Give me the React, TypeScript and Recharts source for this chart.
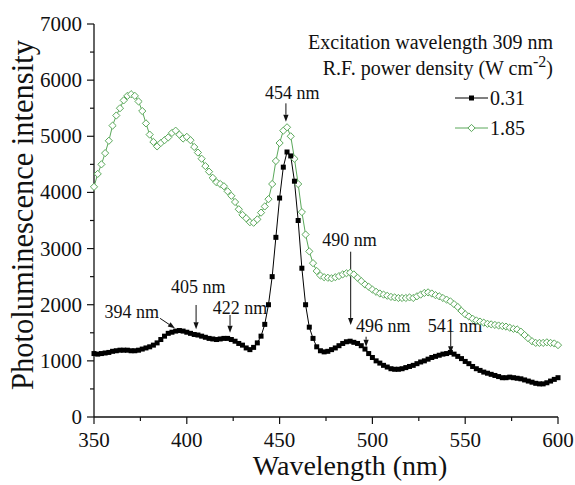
import React from 'react';
import { LineChart, Line, XAxis, YAxis, ReferenceLine, ReferenceDot, Legend } from 'recharts';

// wavelength grid (nm)
const wavelengths = [
  350, 352, 354, 356, 358, 360, 362, 364, 366, 368,
  370, 372, 374, 376, 378, 380, 382, 384, 386, 388,
  390, 392, 394, 396, 398, 400, 402, 404, 406, 408,
  410, 412, 414, 416, 418, 420, 422, 424, 426, 428,
  430, 432, 434, 436, 438, 440, 442, 444, 446, 448,
  450, 452, 454, 456, 458, 460, 462, 464, 466, 468,
  470, 472, 474, 476, 478, 480, 482, 484, 486, 488,
  490, 492, 494, 496, 498, 500, 502, 504, 506, 508,
  510, 512, 514, 516, 518, 520, 522, 524, 526, 528,
  530, 532, 534, 536, 538, 540, 542, 544, 546, 548,
  550, 552, 554, 556, 558, 560, 562, 564, 566, 568,
  570, 572, 574, 576, 578, 580, 582, 584, 586, 588,
  590, 592, 594, 596, 598, 600,
];

// 0.31 W cm-2
const lowPower = [
  1130, 1120, 1130, 1140, 1150, 1170, 1180, 1190, 1190, 1190,
  1180, 1180, 1190, 1210, 1230, 1250, 1280, 1320, 1380, 1440,
  1490, 1510, 1530, 1540, 1530, 1510, 1490, 1470, 1460, 1440,
  1420, 1400, 1390, 1380, 1390, 1400, 1400, 1380, 1350, 1310,
  1280, 1230, 1200, 1240, 1320, 1440, 1650, 2000, 2500, 3200,
  3900, 4450, 4720, 4650, 4200, 3500, 2650, 2000, 1600, 1400,
  1250, 1180, 1160, 1170, 1200, 1230, 1270, 1310, 1340, 1350,
  1330, 1310, 1270, 1210, 1130, 1060, 1000, 960, 920, 890,
  860, 850, 850, 860, 880, 900, 920, 950, 980, 1000,
  1030, 1060, 1080, 1100, 1120, 1130, 1150, 1120, 1080, 1040,
  990, 950, 900, 860, 830, 800, 780, 760, 740, 720,
  700, 700, 710, 700, 690, 680, 660, 640, 620, 600,
  590, 590, 610, 640, 670, 700,
];

// 1.85 W cm-2
const highPower = [
  4100, 4330, 4500, 4700, 4920, 5190, 5370, 5500, 5640, 5720,
  5750, 5720, 5620, 5450, 5230, 5030, 4900, 4820, 4880, 4930,
  4980, 5060, 5100, 5030, 4960, 4990, 4930, 4810, 4710, 4600,
  4470, 4370, 4260, 4180, 4150, 4110, 4020, 3940, 3830, 3700,
  3600, 3540, 3470, 3460, 3520, 3640, 3750, 3880, 4150, 4560,
  4880, 5100, 5160, 5000, 4600, 4150, 3650, 3250, 2950, 2740,
  2600, 2520, 2490, 2480, 2470, 2490, 2510, 2540, 2560, 2570,
  2540, 2480, 2420, 2360, 2320, 2270, 2230, 2200, 2180, 2160,
  2140, 2130, 2120, 2120, 2120, 2130, 2120, 2150, 2180, 2210,
  2220, 2200, 2170, 2150, 2120, 2090, 2060, 2010, 1960, 1890,
  1830, 1790, 1750, 1720, 1700, 1680, 1660, 1650, 1640, 1630,
  1620, 1610, 1590, 1570, 1560, 1520, 1460, 1400, 1350, 1320,
  1320, 1320, 1330, 1320, 1310, 1280,
];

const xTicks = [350, 375, 400, 425, 450, 475, 500, 525, 550, 575, 600];
const yTicks = [0, 500, 1000, 1500, 2000, 2500, 3000, 3500, 4000, 4500, 5000, 5500, 6000, 6500, 7000];

// peak labels: text spot and arrow from (x1,y1) to tip (x2,y2), in data units
const peakNotes = [
  { text: '394 nm', tx: 370.3, ty: 1875, x1: 385.6, y1: 1757, x2: 393.6, y2: 1580 },
  { text: '405 nm', tx: 406.2, ty: 2321, x1: 405, y1: 1995, x2: 405, y2: 1562 },
  { text: '422 nm', tx: 428.7, ty: 1936, x1: 423.3, y1: 1817, x2: 423.3, y2: 1501 },
  { text: '454 nm', tx: 456.8, ty: 5765, x1: 453.4, y1: 5587, x2: 453.4, y2: 5259 },
  { text: '490 nm', tx: 487.6, ty: 3152, x1: 488.3, y1: 2944, x2: 488.3, y2: 1639 },
  { text: '496 nm', tx: 505.9, ty: 1621, x1: 496.6, y1: 1430, x2: 496.6, y2: 1252 },
  { text: '541 nm', tx: 544.5, ty: 1621, x1: 542.2, y1: 1519, x2: 542.2, y2: 1134 },
];

const rows = wavelengths.map((w, i) => ({ w, low: lowPower[i], high: highPower[i] }));

const SERIF = "'Liberation Serif', 'DejaVu Serif', Tinos, 'Times New Roman', Times, serif";
const INK = '#111';
const GREEN = '#5aa85a';

const XTick = (p: any) => {
  const v = p.payload.value;
  const major = v % 50 === 0;
  return (
    <g>
      <line x1={p.x} y1={p.y} x2={p.x} y2={p.y + (major ? 7 : 4)} stroke={INK} strokeWidth={1.2} />
      {major && (
        <text x={p.x} y={p.y + 30} textAnchor="middle" fontSize={21} fontFamily={SERIF} fill={INK}>
          {v}
        </text>
      )}
    </g>
  );
};

const YTick = (p: any) => {
  const v = p.payload.value;
  const major = v % 1000 === 0;
  return (
    <g>
      <line x1={p.x} y1={p.y} x2={p.x - (major ? 7 : 4)} y2={p.y} stroke={INK} strokeWidth={1.2} />
      {major && (
        <text x={p.x - 12} y={p.y + 7} textAnchor="end" fontSize={21} fontFamily={SERIF} fill={INK}>
          {v}
        </text>
      )}
    </g>
  );
};

const Arrow = (p: any) => {
  const { x1, y1, x2, y2 } = p;
  const a = Math.atan2(y2 - y1, x2 - x1);
  const len = 7;
  const hw = 2.6;
  const bx = x2 - len * Math.cos(a);
  const by = y2 - len * Math.sin(a);
  const nx = -Math.sin(a) * hw;
  const ny = Math.cos(a) * hw;
  return (
    <g>
      <line x1={x1} y1={y1} x2={bx} y2={by} stroke={INK} strokeWidth={1} />
      <path d={`M${x2},${y2}L${bx + nx},${by + ny}L${bx - nx},${by - ny}Z`} fill={INK} />
    </g>
  );
};

const Square = (p: any) => (
  <rect key={`sq-${p.index}`} x={p.cx - 2.5} y={p.cy - 2.5} width={5} height={5} fill="#000" />
);

const Diamond = (p: any) => (
  <path
    key={`dm-${p.index}`}
    d={`M${p.cx},${p.cy - 3.6}L${p.cx + 3.6},${p.cy}L${p.cx},${p.cy + 3.6}L${p.cx - 3.6},${p.cy}Z`}
    fill="#fff"
    stroke={GREEN}
    strokeWidth={1}
  />
);

const LegendBlock = () => (
  <div style={{ position: 'relative', width: 575, height: 485, fontFamily: SERIF, color: INK, pointerEvents: 'none' }}>
    <div style={{ position: 'absolute', right: 22, top: 30, fontSize: 20, lineHeight: '24px', whiteSpace: 'nowrap' }}>
      Excitation wavelength 309 nm
    </div>
    <div style={{ position: 'absolute', right: 22, top: 56, fontSize: 20, lineHeight: '24px', whiteSpace: 'nowrap' }}>
      R.F. power density (W cm<span style={{ fontSize: 16, position: 'relative', top: -8 }}>-2</span>)
    </div>
    {[
      { label: '0.31', top: 86, kind: 'sq' },
      { label: '1.85', top: 116, kind: 'dm' },
    ].map((r) => (
      <div key={r.label} style={{ position: 'absolute', left: 455, top: r.top, height: 24, display: 'flex', alignItems: 'center' }}>
        <svg width={33} height={24}>
          <line x1={0} y1={12} x2={33} y2={12} stroke={r.kind === 'sq' ? '#000' : GREEN} strokeWidth={1} />
          {r.kind === 'sq' ? (
            <rect x={14} y={9.5} width={5} height={5} fill="#000" />
          ) : (
            <path d="M16.5,8.4L20.1,12L16.5,15.6L12.9,12Z" fill="#fff" stroke={GREEN} />
          )}
        </svg>
        <span style={{ fontSize: 20, lineHeight: '24px', marginLeft: 2 }}>{r.label}</span>
      </div>
    ))}
  </div>
);

export default function App() {
  return (
    <div style={{ position: 'absolute', left: 0, top: 0, background: '#fff' }}>
      <LineChart width={575} height={485} data={rows} margin={{ top: 24, right: 17, left: 0, bottom: 0 }}>
        <XAxis
          dataKey="w"
          type="number"
          domain={[350, 600]}
          ticks={xTicks}
          interval={0}
          height={68}
          tickSize={0}
          tickMargin={0}
          tickLine={false}
          tick={XTick}
          axisLine={{ stroke: INK, strokeWidth: 1.3 }}
          label={{
            content: () => (
              <text x={350} y={475} textAnchor="middle" fontSize={28} fontFamily={SERIF} fill={INK}>
                Wavelength (nm)
              </text>
            ),
          }}
        />
        <XAxis
          xAxisId="top"
          orientation="top"
          dataKey="w"
          type="number"
          domain={[350, 600]}
          height={0}
          tick={false}
          tickLine={false}
          axisLine={{ stroke: INK, strokeWidth: 1.3 }}
        />
        <YAxis
          type="number"
          domain={[0, 7000]}
          ticks={yTicks}
          interval={0}
          width={94}
          tickSize={0}
          tickMargin={0}
          tickLine={false}
          tick={YTick}
          axisLine={{ stroke: INK, strokeWidth: 1.3 }}
          label={{
            content: () => (
              <text
                x={33}
                y={215}
                transform="rotate(-90 33 215)"
                textAnchor="middle"
                fontSize={30.5}
                fontFamily={SERIF}
                fill={INK}
              >
                Photoluminescence intensity
              </text>
            ),
          }}
        />
        <YAxis
          yAxisId="right"
          orientation="right"
          type="number"
          domain={[0, 7000]}
          ticks={yTicks}
          interval={0}
          width={0}
          tick={false}
          tickSize={3}
          tickLine={{ stroke: INK }}
          axisLine={{ stroke: INK, strokeWidth: 1.3 }}
        />
        <Line
          dataKey="high"
          stroke={GREEN}
          strokeWidth={1}
          dot={Diamond}
          activeDot={false}
          isAnimationActive={false}
          type="linear"
        />
        <Line
          dataKey="low"
          stroke="#000"
          strokeWidth={1}
          dot={Square}
          activeDot={false}
          isAnimationActive={false}
          type="linear"
        />
        {peakNotes.map((n) => (
          <ReferenceLine
            key={`a-${n.text}`}
            segment={[
              { x: n.x1, y: n.y1 },
              { x: n.x2, y: n.y2 },
            ]}
            shape={Arrow}
          />
        ))}
        {peakNotes.map((n) => (
          <ReferenceDot
            key={`t-${n.text}`}
            x={n.tx}
            y={n.ty}
            r={0}
            shape={(p: any) => (
              <text x={p.cx} y={p.cy + 6} textAnchor="middle" fontSize={18} fontFamily={SERIF} fill={INK}>
                {n.text}
              </text>
            )}
          />
        ))}
        <Legend
          layout="horizontal"
          verticalAlign="middle"
          align="center"
          wrapperStyle={{ left: 0, top: 0, width: 575, height: 485 }}
          content={() => <LegendBlock />}
        />
      </LineChart>
    </div>
  );
}
